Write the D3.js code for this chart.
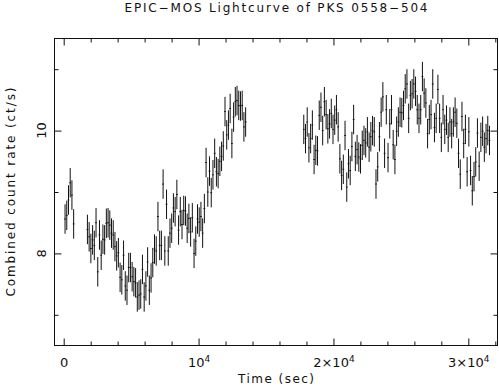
<!DOCTYPE html>
<html><head><meta charset="utf-8">
<script src="https://cdn.jsdelivr.net/npm/d3@7"></script>
<style>html,body{margin:0;padding:0;background:#fff;} svg{display:block;}</style>
</head><body>
<svg id="c" width="499" height="389"></svg>
<script>
// ---------------- data ----------------
const chartTitle = "EPIC\u2212MOS Lightcurve of PKS 0558\u2212504";
const xLabel = "Time (sec)";
const yLabel = "Combined count rate (ct/s)";

const binWidth = 127.5;                 // s, time bin of the lightcurve
const segmentStarts = [100, 1760, 17800]; // s, first bin centre of each good-time segment
const rateError = 0.24;                 // ct/s, half length of each error bar

const seg1Rates = [8.56, 8.62, 8.87, 9.15, 8.95, 8.48];

const seg2Rates = [
  8.39, 8.27, 8.08, 8.22, 8.13, 8.50, 7.70, 8.30, 7.97, 8.23,
  8.22, 8.49, 8.50, 8.46, 8.33, 8.30, 8.11, 7.96, 8.01, 7.61,
  7.57, 7.97, 7.47, 7.40, 7.77, 7.77, 7.62, 7.54, 7.52, 7.29,
  7.32, 7.34, 7.74, 7.29, 7.47, 7.86, 7.40,
  7.60, 7.85, 8.07, 8.04, 8.60, 8.13, 8.13, 9.13, 8.04, 8.80,
  8.04, 8.33, 8.41, 8.74, 8.68, 8.96, 8.38, 8.68, 8.47, 8.70,
  8.69, 8.41, 8.57, 8.35, 8.58, 8.00, 8.20, 8.56, 8.51, 8.60,
  8.33, 8.73, 9.48, 9.00, 9.34, 8.99, 9.28, 9.63, 9.33, 9.30,
  9.50, 9.58, 9.75, 10.31, 9.93, 10.09, 10.36, 9.79, 10.22, 10.47,
  10.49, 10.41, 10.40, 10.41, 10.06, 10.14
];

const seg3Rates = [
  10.02, 9.87, 10.14, 9.72, 9.87, 10.09, 9.53, 9.68, 9.67, 10.25,
  10.38, 10.00, 10.47, 10.26, 10.03, 10.11, 10.28, 10.02, 10.17, 10.34,
  10.06, 9.54, 9.27, 9.37, 9.92, 9.08, 9.46, 9.35, 9.74, 10.18,
  9.58, 9.69, 9.57, 9.54, 9.76, 9.84, 9.80, 9.98, 9.73, 9.90,
  10.00, 9.98, 9.13, 9.41, 9.90, 10.30, 10.55, 9.63, 10.34, 9.56,
  10.11, 10.34,
  9.77, 9.53, 9.99, 10.14, 10.30, 10.29, 10.41, 10.68, 10.76, 10.20,
  10.57, 10.60, 10.76, 10.64, 10.34, 10.20, 10.34, 10.88, 10.61, 10.45,
  9.95, 10.18, 10.26, 10.76, 10.05, 10.20, 10.67, 10.20, 9.89, 10.34,
  10.02, 10.17, 9.89, 10.14, 9.95, 10.14, 10.30, 10.12, 9.63, 9.29,
  10.23, 9.79, 10.02, 9.33, 9.98, 9.35, 9.02, 9.25, 9.49, 9.96,
  9.42, 9.89, 9.99, 9.73, 9.87, 10.00, 9.84
];

const xDomain = [-682, 32164];
const yDomain = [6.5, 11.5];
const xMajorTicks = [0, 10000, 20000, 30000];
const xMinorTicks = [2000, 4000, 6000, 8000, 12000, 14000, 16000, 18000, 22000, 24000, 26000, 28000, 32000];
const xTickBase = ["0", "10", "2\u00d710", "3\u00d710"];
const xTickSup  = ["",  "4",  "4",          "4"];
const yMajorTicks = [8, 10];
const yMinorTicks = [7, 9, 11];
const yTickLabels = ["8", "10"];

// ---------------- layout ----------------
const W = 499, H = 389;
const L = 54.5, R = 497.5, T = 38.5, B = 345.5;
const ink = "#111";
const font = "'DejaVu Sans', 'Liberation Sans', sans-serif";

const svg = d3.select("#c");
const x = d3.scaleLinear().domain(xDomain).range([L, R]);
const y = d3.scaleLinear().domain(yDomain).range([B, T]);

// build points
const points = [];
[seg1Rates, seg2Rates, seg3Rates].forEach((rates, s) => {
  rates.forEach((r, i) => points.push({t: segmentStarts[s] + i * binWidth, r: r}));
});

// data marks
const gData = svg.append("g").attr("stroke", ink).attr("stroke-width", 1).attr("fill", "none");
gData.selectAll("line.err").data(points).join("line").attr("class", "err")
  .attr("x1", d => x(d.t)).attr("x2", d => x(d.t))
  .attr("y1", d => y(d.r - rateError)).attr("y2", d => y(d.r + rateError));
gData.selectAll("line.bin").data(points).join("line").attr("class", "bin")
  .attr("x1", d => x(d.t - binWidth / 2)).attr("x2", d => x(d.t + binWidth / 2))
  .attr("y1", d => y(d.r)).attr("y2", d => y(d.r));

// axes (inward ticks on all four sides)
function styleAxis(g) {
  g.select(".domain").remove();
  g.selectAll("line").attr("stroke", ink);
}
const axes = [
  [d3.axisBottom, x, `translate(0,${B})`],
  [d3.axisTop, x, `translate(0,${T})`],
  [d3.axisLeft, y, `translate(${L},0)`],
  [d3.axisRight, y, `translate(${R},0)`]
];
axes.forEach(([fn, sc, tr]) => {
  const isX = sc === x;
  svg.append("g").attr("transform", tr)
    .call(fn(sc).tickValues(isX ? xMajorTicks : yMajorTicks).tickSize(-7).tickSizeOuter(0).tickFormat(""))
    .call(styleAxis);
  svg.append("g").attr("transform", tr)
    .call(fn(sc).tickValues(isX ? xMinorTicks.filter(v => v <= xDomain[1]) : yMinorTicks).tickSize(-4).tickSizeOuter(0).tickFormat(""))
    .call(styleAxis);
});

// frame
svg.append("rect").attr("x", L).attr("y", T).attr("width", R - L).attr("height", B - T)
  .attr("fill", "none").attr("stroke", ink).attr("stroke-width", 1);

// x tick labels
xMajorTicks.forEach((v, i) => {
  const t = svg.append("text").attr("x", x(v) + 0.5).attr("y", 366.5)
    .attr("text-anchor", "middle").attr("font-family", font).attr("font-size", 13).attr("fill", ink)
    .text(xTickBase[i]);
  if (xTickSup[i]) t.append("tspan").attr("dy", -5).attr("font-size", 9).text(xTickSup[i]);
});

// y tick labels (rotated)
yMajorTicks.forEach((v, i) => {
  svg.append("text").attr("transform", `translate(45.5,${y(v)}) rotate(-90)`)
    .attr("text-anchor", "middle").attr("font-family", font).attr("font-size", 13).attr("fill", ink)
    .text(yTickLabels[i]);
});

// title
svg.append("text").attr("x", (L + R) / 2).attr("y", 12)
  .attr("text-anchor", "middle").attr("font-family", font).attr("font-size", 12).attr("fill", ink)
  .attr("textLength", 303).attr("lengthAdjust", "spacing")
  .text(chartTitle);

// x label
svg.append("text").attr("x", (L + R) / 2).attr("y", 382.5)
  .attr("text-anchor", "middle").attr("font-family", font).attr("font-size", 12).attr("fill", ink)
  .attr("textLength", 76).attr("lengthAdjust", "spacing")
  .text(xLabel);

// y label
svg.append("text").attr("transform", `translate(15,192) rotate(-90)`)
  .attr("text-anchor", "middle").attr("font-family", font).attr("font-size", 12).attr("fill", ink)
  .attr("textLength", 209).attr("lengthAdjust", "spacing")
  .text(yLabel);
</script>
</body></html>
